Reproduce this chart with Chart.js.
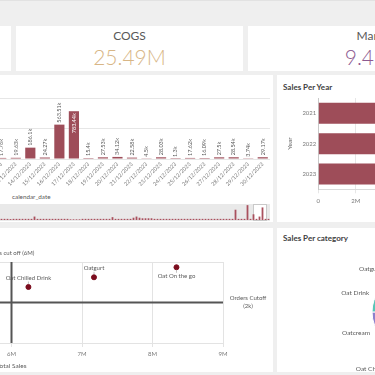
<!DOCTYPE html>
<html>
<head>
<meta charset="utf-8">
<script src="https://cdn.jsdelivr.net/npm/chart.js@4.4.1/dist/chart.umd.min.js"></script>
<style>
  html, body { margin: 0; padding: 0; }
  body { width: 375px; height: 375px; overflow: hidden; position: relative; background: #efefef; font-family: Lato, "Open Sans", sans-serif; }
  .topline { position: absolute; left: 0; top: 0; width: 375px; height: 1px; background: #e2e2e2; }
  .card { position: absolute; background: #fff; }
  .kpi-title { position: absolute; left: 0; right: 0; top: 2px; line-height: 15px; text-align: center; font-size: 12px; color: #595959; }
  .kpi-value { position: absolute; left: 0; right: 0; top: 19px; line-height: 24px; text-align: center; font-size: 21px; font-weight: 300; }
  .title { position: absolute; font-size: 8px; line-height: 10px; font-weight: 700; color: #404040; }
  .axis-title { position: absolute; font-size: 6.3px; line-height: 8px; color: #595959; }
  .nav-bg { position: absolute; left: 0; top: 204px; width: 270px; height: 17px; background: #e9e9e9; }
  .nav-window { position: absolute; left: 253px; top: 204px; width: 14px; height: 17px; background: #fff; border: 1px solid #c9c9c9; box-sizing: border-box; }
  canvas { position: absolute; }
</style>
</head>
<body>
<div class="topline"></div>

<!-- KPI row -->
<div class="card" style="left:-216px;top:26px;width:227px;height:45px"></div>
<div class="card" style="left:16px;top:26px;width:227px;height:45px">
  <div class="kpi-title">COGS</div>
  <div class="kpi-value" style="color:#d8b686">25.49M</div>
</div>
<div class="card" style="left:248px;top:26px;width:254px;height:45px">
  <div class="kpi-title">Margin</div>
  <div class="kpi-value" style="color:#8d5a90">9.41M</div>
</div>

<!-- middle row -->
<div class="card" style="left:-230px;top:75px;width:503px;height:147px"></div>
<div class="card" style="left:277px;top:75px;width:200px;height:147px"></div>
<div class="title" style="left:283px;top:82px">Sales Per Year</div>
<canvas id="dailyChart" width="276" height="115" style="left:-6px;top:75px"></canvas>
<div class="axis-title" style="left:12px;top:193px">calendar_date</div>
<div class="nav-bg"></div>
<div class="nav-window"></div>
<canvas id="navChart" width="270" height="17" style="left:0;top:204px"></canvas>
<canvas id="yearChart" width="266" height="146" style="left:277px;top:75px"></canvas>

<!-- bottom row -->
<div class="card" style="left:-230px;top:228px;width:503px;height:144px"></div>
<div class="card" style="left:277px;top:228px;width:200px;height:144px"></div>
<div class="title" style="left:283px;top:233px">Sales Per category</div>
<canvas id="scatterChart" width="475" height="144" style="left:-205px;top:228px"></canvas>
<canvas id="categoryChart" width="216" height="144" style="left:300px;top:240px"></canvas>

<script>
// daily sales (k)
const dates = ['12/12/2023', '13/12/2023', '14/12/2023', '15/12/2023', '16/12/2023', '17/12/2023',
  '18/12/2023', '19/12/2023', '20/12/2023', '21/12/2023', '22/12/2023', '23/12/2023', '24/12/2023',
  '25/12/2023', '26/12/2023', '27/12/2023', '28/12/2023', '29/12/2023', '30/12/2023'];
const dailySales = [17.76, 19.63, 186.1, 24.27, 563.51, 783.44, 15.4, 27.53, 34.12, 22.58,
  4.5, 28.03, 1.3, 17.62, 16.09, 27.5, 28.54, 3.74, 29.17];

// overview strip under the bar chart (relative heights)
const navValues = [1, 1, 1, 0.8, 1, 1, 1, 1, 1, 1, 1, 3, 1, 1, 1, 1, 1, 1, 1, 1, 1, 1, 1, 0.6, 0.6, 0.6,
  0.6, 1, 1, 1, 1, 1, 1, 1, 1, 1, 1, 2.5, 1, 1, 1, 1, 1, 1, 2, 3, 2, 1.5, 1.5, 1.5, 1.5, 1, 1, 1, 1, 1,
  1, 1, 1, 1, 1, 1, 1, 1, 1, 1, 1, 1, 1, 1, 1, 1, 1, 1, 1, 1, 1, 1, 9, 1, 1, 1, 13, 1, 5, 1, 3, 11, 1, 1];

// sales per year (M)
const years = ['2021', '2022', '2023'];
const yearSales = [11.6, 11.2, 12.1];

// products: total sales (M) vs orders
const products = ['Oat Chilled Drink', 'Oatgurt', 'Oat On the go'];
const productSales = [6.24, 7.17, 8.34];
const productOrders = [2765, 3245, 3740];
const salesCutoff = 6;
const ordersCutoff = 2000;

// sales per category (M)
const categories = ['Oat On the go', 'Oat Chilled Drink', 'Oatcream', 'Oat Drink', 'Oatgurt'];
const categorySales = [15.72, 7.72, 4.05, 3.49, 2.11];
const categoryColors = ['#e9a947', '#6b8fd2', '#8c80cc', '#57c4b7', '#d8646b'];

const barColor = '#9e4d59';
const textGrey = '#595959';
const tickGrey = '#7a7a7a';

Chart.defaults.font.family = 'Lato';
Chart.defaults.animation = false;
Chart.defaults.responsive = false;
Chart.defaults.plugins.legend.display = false;
Chart.defaults.plugins.tooltip.enabled = false;

// value labels on the daily bars, vertical; inside the bar when they don't fit above
const barValueLabels = {
  id: 'barValueLabels',
  afterDatasetsDraw(chart) {
    const {ctx, chartArea} = chart;
    ctx.save();
    ctx.font = '5.5px Lato';
    ctx.textBaseline = 'middle';
    chart.getDatasetMeta(0).data.forEach((bar, i) => {
      const text = dailySales[i] + 'k';
      const w = ctx.measureText(text).width;
      ctx.save();
      ctx.translate(bar.x, bar.y);
      ctx.rotate(-Math.PI / 2);
      if (bar.y - 2 - w < chartArea.top) {
        ctx.fillStyle = '#ffffff';
        ctx.textAlign = 'right';
        ctx.fillText(text, -2, 0);
      } else {
        ctx.fillStyle = textGrey;
        ctx.textAlign = 'left';
        ctx.fillText(text, 2, 0);
      }
      ctx.restore();
    });
    ctx.restore();
  }
};

new Chart(document.getElementById('dailyChart'), {
  type: 'bar',
  data: {
    labels: dates,
    datasets: [{ data: dailySales, backgroundColor: barColor, barPercentage: 0.7, categoryPercentage: 1 }]
  },
  options: {
    layout: { padding: { top: 23, left: 0, right: 0, bottom: 0 } },
    scales: {
      x: {
        grid: { display: false, drawTicks: false },
        border: { display: false },
        ticks: { autoSkip: false, minRotation: 45, maxRotation: 45, font: { size: 5.5 }, color: tickGrey, padding: 2 },
        afterFit(s) { s.height = 31; s.paddingLeft = 0; s.paddingRight = 0; }
      },
      y: {
        min: 0, max: 1000,
        ticks: { display: false, stepSize: 500 },
        grid: { color: '#e6e6e6', drawTicks: false },
        border: { display: false },
        afterFit(s) { s.width = 0; }
      }
    }
  },
  plugins: [barValueLabels]
});

new Chart(document.getElementById('navChart'), {
  type: 'bar',
  data: {
    labels: navValues.map((v, i) => i),
    datasets: [{ data: navValues, backgroundColor: '#a9505d', barPercentage: 0.6, categoryPercentage: 1 }]
  },
  options: {
    layout: { padding: { bottom: 1 } },
    scales: {
      x: { display: false },
      y: { display: false, min: 0, max: 14 }
    }
  }
});

new Chart(document.getElementById('yearChart'), {
  type: 'bar',
  data: {
    labels: years,
    datasets: [{ data: yearSales, backgroundColor: barColor, barPercentage: 0.69, categoryPercentage: 1 }]
  },
  options: {
    indexAxis: 'y',
    layout: { padding: { top: 23, right: 0, bottom: 0, left: 0 } },
    scales: {
      x: {
        min: 0, max: 12,
        ticks: { stepSize: 2, callback: v => v === 0 ? '0' : v + 'M', font: { size: 6 }, color: tickGrey, padding: 4 },
        grid: { color: '#e6e6e6', tickLength: 4 },
        border: { color: '#d9d9d9' },
        afterFit(s) { s.height = 31.7; s.paddingLeft = 0; s.paddingRight = 0; }
      },
      y: {
        ticks: { font: { size: 6 }, color: tickGrey, padding: 2 },
        grid: { display: false, drawTicks: false },
        border: { color: '#c8c8c8' },
        title: { display: true, text: 'Year', font: { size: 6.5 }, color: textGrey, padding: { top: 9, bottom: 0 } },
        afterFit(s) { s.width = 41.3; }
      }
    }
  }
});

// reference lines and point labels for the scatter
const cutoffLines = {
  id: 'cutoffLines',
  beforeDatasetsDraw(chart) {
    const {ctx, chartArea, scales} = chart;
    const sx = scales.x.getPixelForValue(salesCutoff);
    const oy = scales.y.getPixelForValue(ordersCutoff);
    ctx.save();
    ctx.strokeStyle = '#555555';
    ctx.lineWidth = 2;
    ctx.beginPath();
    ctx.moveTo(sx, chartArea.top);
    ctx.lineTo(sx, chartArea.bottom);
    ctx.moveTo(chartArea.left, oy);
    ctx.lineTo(chartArea.right, oy);
    ctx.stroke();
    ctx.fillStyle = textGrey;
    ctx.font = '6px Lato';
    ctx.textAlign = 'center';
    ctx.textBaseline = 'middle';
    ctx.fillText('Sales cut off (' + salesCutoff + 'M)', sx, chartArea.top - 9);
    ctx.fillText('Orders Cutoff', chartArea.right + 25, oy - 4.5);
    ctx.fillText('(' + ordersCutoff / 1000 + 'k)', chartArea.right + 25, oy + 3.5);
    ctx.restore();
  },
  afterDatasetsDraw(chart) {
    const {ctx, chartArea} = chart;
    ctx.save();
    ctx.font = '6px Lato';
    ctx.textAlign = 'center';
    ctx.textBaseline = 'middle';
    ctx.fillStyle = textGrey;
    ctx.strokeStyle = '#9a9a9a';
    ctx.lineWidth = 0.6;
    chart.getDatasetMeta(0).data.forEach((pt, i) => {
      const above = pt.y - 13 >= chartArea.top;
      const dir = above ? -1 : 1;
      ctx.beginPath();
      ctx.moveTo(pt.x, pt.y + dir * 3);
      ctx.lineTo(pt.x, pt.y + dir * 5.5);
      ctx.stroke();
      ctx.fillText(products[i], pt.x, pt.y + dir * 9);
    });
    ctx.restore();
  }
};

new Chart(document.getElementById('scatterChart'), {
  type: 'scatter',
  data: {
    datasets: [{
      data: products.map((p, i) => ({ x: productSales[i], y: productOrders[i] })),
      pointRadius: 2.5,
      backgroundColor: '#7b0d1e',
      borderColor: '#7b0d1e'
    }]
  },
  options: {
    layout: { padding: { top: 34, right: 47, left: 0, bottom: 0 } },
    scales: {
      x: {
        type: 'linear', min: 3, max: 9,
        ticks: { stepSize: 1, callback: v => v + 'M', font: { size: 6 }, color: tickGrey, padding: 3 },
        grid: { color: '#e3e3e3', tickLength: 4 },
        border: { color: '#e3e3e3' },
        title: { display: true, text: 'Total Sales', font: { size: 6.5 }, color: textGrey, padding: { top: 0, bottom: 2 } },
        afterFit(s) { s.height = 29; s.paddingLeft = 0; s.paddingRight = 0; }
      },
      y: {
        min: 0, max: 4000,
        ticks: { display: false, stepSize: 2000 },
        grid: { color: '#e3e3e3', drawTicks: false },
        border: { display: false },
        afterFit(s) { s.width = 0; }
      }
    }
  },
  plugins: [cutoffLines]
});

// outside labels for the pie
const pieLabels = {
  id: 'pieLabels',
  afterDatasetsDraw(chart) {
    const {ctx} = chart;
    ctx.save();
    ctx.font = '6.5px Lato';
    ctx.fillStyle = textGrey;
    ctx.textBaseline = 'middle';
    chart.getDatasetMeta(0).data.forEach((arc, i) => {
      const mid = (arc.startAngle + arc.endAngle) / 2;
      const c = Math.cos(mid), s = Math.sin(mid);
      ctx.textAlign = c < 0 ? 'right' : 'left';
      ctx.fillText(categories[i], arc.x + (arc.outerRadius + 5) * c, arc.y + (arc.outerRadius + 21) * s);
    });
    ctx.restore();
  }
};

new Chart(document.getElementById('categoryChart'), {
  type: 'pie',
  data: {
    labels: categories,
    datasets: [{ data: categorySales, backgroundColor: categoryColors, borderColor: '#ffffff', borderWidth: 1 }]
  },
  options: {
    radius: 36,
    rotation: 331,
    layout: { padding: 0 }
  },
  plugins: [pieLabels]
});
</script>
</body>
</html>
